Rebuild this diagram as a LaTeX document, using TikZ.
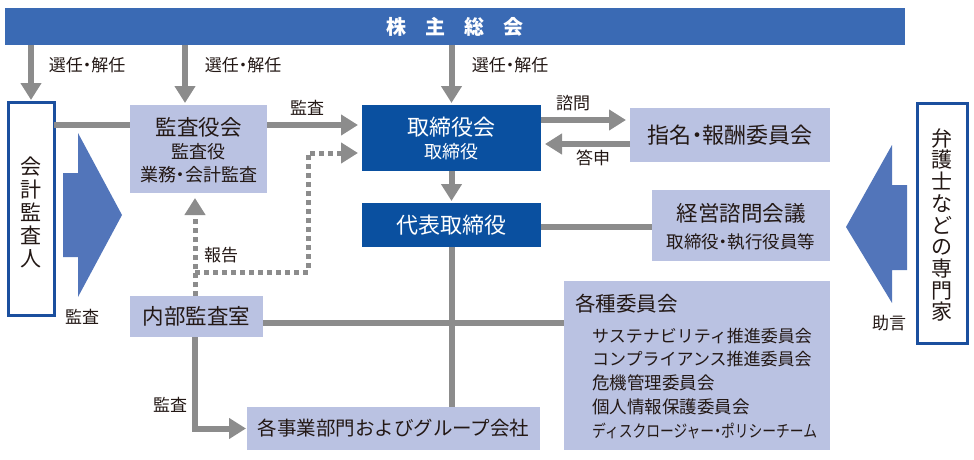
\documentclass[tikz,border=0pt]{standalone}
\usepackage{fontspec}
\usepackage{graphicx}
\setmainfont{Noto Sans CJK JP}
\usetikzlibrary{arrows.meta}
\definecolor{barblue}{HTML}{3A6AB4}
\definecolor{darkblue}{HTML}{0A50A0}
\definecolor{lightbox}{HTML}{BAC2E2}
\definecolor{framblue}{HTML}{1B4F9E}
\definecolor{arrowblue}{HTML}{5275BA}
\definecolor{linegray}{HTML}{8C8C8C}
\definecolor{txt}{HTML}{231815}
\newcommand\fsz[2][0]{\fontsize{#2}{#2}\selectfont}
\newcommand\nd{{\addfontfeature{RawFeature=+palt}・}}
\begin{document}
\begin{tikzpicture}[x=1pt,y=-1pt,
 box/.style={anchor=north west, inner sep=0pt, outer sep=0pt},
 lbox/.style={box, fill=lightbox, text=txt},
 dbox/.style={box, fill=darkblue, text=white},
 wbox/.style={box, draw=framblue, line width=3pt, fill=white},
 lbl/.style={inner sep=0pt, text=txt, font=\fsz{17}},
 tx/.style={inner sep=0pt},
 gline/.style={draw=linegray, line width=6pt},
 garr/.style={gline, -{Triangle[width=20pt,length=17pt]}},
 dotline/.style={draw=linegray, line width=5pt, dash pattern=on 5pt off 4pt},
 dotarr/.style={dotline, -{Triangle[width=20pt,length=17pt]}},
 ]
\useasboundingbox (0,0) rectangle (974,460);

% reference coordinates
\coordinate (xa) at (185,0);
\coordinate (xd) at (195,0);
\coordinate (xr) at (308,0);
\coordinate (ya) at (0,125);
\coordinate (yb) at (0,153);
\coordinate (yc) at (0,120);
\coordinate (ye) at (0,144);
\coordinate (yf) at (0,227);
\coordinate (yg) at (0,323);
\coordinate (yh) at (0,272);

% boxes
\node[box, fill=barblue, minimum width=900pt, minimum height=37pt, text=white,
      font=\bfseries\fsz{20}] (sokai) at (5,8) {株\hspace{19pt}主\hspace{19pt}総\hspace{19pt}会};
\node[wbox, minimum width=46pt, minimum height=213pt] (kaikei) at (8,102) {};
\node[tx, align=center, text=txt, font=\fontsize{21}{23}\selectfont] (kaikeiT) at (31,212) {会\\計\\監\\査\\人};
\node[lbox, minimum width=137pt, minimum height=88pt] (kansa) at (130,105) {};
\node[tx, text=txt, font=\fsz{21.5}] (kansaT1) at (198.5,127) {監査役会};
\node[tx, text=txt, font=\fsz{18}] (kansaT2) at (198.5,152) {監査役};
\node[tx, text=txt, font=\fsz{18}] (kansaT3) at (198.5,175) {業務\nd 会計監査};
\node[lbox, minimum width=133pt, minimum height=41pt, font=\fsz{21.5}] (naibu) at (130,296) {内部監査室};
\node[lbox, minimum width=293pt, minimum height=43pt, font=\fsz{19.5}] (jigyo) at (247,407) {各事業部門およびグループ会社};
\node[dbox, minimum width=179pt, minimum height=66pt] (tori) at (362,105) {};
\node[tx, text=white, font=\fsz{22}] (toriT1) at (451.5,127) {取締役会};
\node[tx, text=white, font=\fsz{18}] (toriT2) at (451.5,152) {取締役};
\node[dbox, minimum width=179pt, minimum height=44pt, font=\fsz{22}] (daihyo) at (362,203) {代表取締役};
\node[lbox, minimum width=200pt, minimum height=54pt, font=\fsz{22}] (shimei) at (630,108) {指名\nd 報酬委員会};
\node[lbox, minimum width=178pt, minimum height=71pt] (keiei) at (652,190) {};
\node[tx, text=txt, font=\fsz{21.5}] (keieiT1) at (741,213) {経営諮問会議};
\node[tx, text=txt, font=\fsz{17.5}] (keieiT2) at (741,242) {取締役\nd 執行役員等};
\node[lbox, minimum width=266pt, minimum height=169pt] (kakushu) at (564,281) {};
\node[tx, anchor=west, text=txt, font=\fsz{20.5}] (kakT0) at (575,304) {各種委員会};
\node[tx, anchor=west, text=txt, font=\fsz{17}] (kakT1) at (592,336) {サステナビリティ推進委員会};
\node[tx, anchor=west, text=txt, font=\fsz{17}] (kakT2) at (592,359) {コンプライアンス推進委員会};
\node[tx, anchor=west, text=txt, font=\fsz{17.5}] (kakT3) at (592,383) {危機管理委員会};
\node[tx, anchor=west, text=txt, font=\fsz{17.5}] (kakT4) at (592,407) {個人情報保護委員会};
\node[tx, anchor=west, text=txt, font=\fsz{17}] (kakT5) at (592,431) {\scalebox{0.81}[1]{ディスクロージャー\nd ポリシーチーム}};
\node[wbox, minimum width=50pt, minimum height=240pt] (bengo) at (917,103) {};
\node[tx, align=center, text=txt, font=\fontsize{21}{21.7}\selectfont] (bengoT) at (942,225) {弁\\護\\士\\な\\ど\\の\\専\\門\\家};

% big blue arrows
\fill[arrowblue] (63,173) -- (78,173) -- (78,133) -- (122,215) -- (78,297) -- (78,257) -- (63,257) -- cycle;
\fill[arrowblue] (907,185) -- (892,185) -- (892,145) -- (846,227) -- (892,303) -- (892,270) -- (907,270) -- cycle;

% connectors
\draw[garr, shorten >=2pt] (kaikei.north |- sokai.south) -- (kaikei.north);
\draw[garr, shorten >=2pt] (xa |- sokai.south) -- (xa |- kansa.north);
\draw[garr, shorten >=2pt] (tori.north |- sokai.south) -- (tori.north);
\draw[gline] (kaikei.east |- ya) -- (kansa.west |- ya);
\draw[garr, shorten >=4pt] (kansa.east |- ya) -- (tori.west |- ya);
\draw[garr, shorten >=2pt] (tori.south) -- (daihyo.north);
\draw[garr, shorten >=4pt] (tori.east |- yc) -- (shimei.west |- yc);
\draw[garr, shorten >=4pt] (shimei.west |- ye) -- (tori.east |- ye);
\draw[gline] (daihyo.east |- yf) -- (keiei.west |- yf);
\draw[gline] (naibu.east |- yg) -- (kakushu.west |- yg);
\draw[gline] (daihyo.south) -- (daihyo.south |- jigyo.north);
\draw[garr, shorten >=1pt] (xd |- naibu.south) |- (jigyo.west);
\draw[dotarr, shorten >=5pt] (xd |- naibu.north) -- (xd |- kansa.south);
\draw[dotarr, shorten >=4pt] (xd |- yh) -- (xr |- yh) -- (xr |- yb) -- (tori.west |- yb);

% labels
\node[lbl] (l1) at (87,65) {選任\nd 解任};
\node[lbl] (l2) at (243,65) {選任\nd 解任};
\node[lbl] (l3) at (510,65) {選任\nd 解任};
\node[lbl] (l4) at (307,108) {監査};
\node[lbl] (l5) at (221,255) {報告};
\node[lbl] (l6) at (82,317) {監査};
\node[lbl] (l7) at (573,103) {諮問};
\node[lbl] (l8) at (593,158) {答申};
\node[lbl] (l9) at (170,405) {監査};
\node[lbl] (l10) at (889,323) {助言};
\end{tikzpicture}
\end{document}
